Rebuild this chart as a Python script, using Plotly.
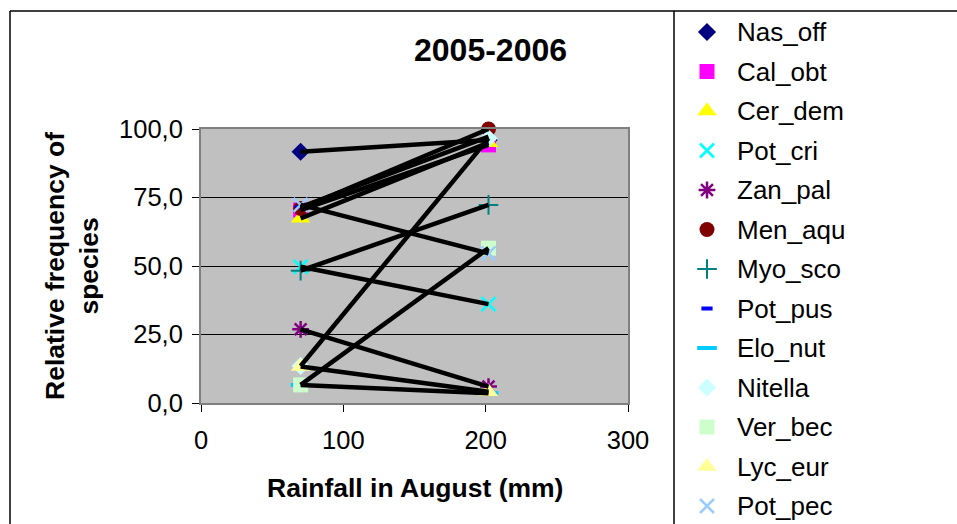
import plotly.graph_objects as go

# ---- data ----
rainfall = [70, 202]
species = ["Nas_off", "Cal_obt", "Cer_dem", "Pot_cri", "Zan_pal", "Men_aqu", "Myo_sco",
           "Pot_pus", "Elo_nut", "Nitella", "Ver_bec", "Lyc_eur", "Pot_pec"]
nas_off = [91.7, 96.0]
cal_obt = [70.4, 94.2]
cer_dem = [67.4, 95.0]
pot_cri = [49.7, 36.1]
zan_pal = [26.9, 6.0]
men_aqu = [71.0, 100.0]
myo_sco = [48.3, 72.3]
pot_pus = [71.5, 97.2]
elo_nut = [6.6, 3.6]
nitella = [13.5, 96.6]
ver_bec = [6.6, 56.5]
lyc_eur = [13.3, 4.1]
pot_pec = [72.3, 54.6]
values = [nas_off, cal_obt, cer_dem, pot_cri, zan_pal, men_aqu, myo_sco,
          pot_pus, elo_nut, nitella, ver_bec, lyc_eur, pot_pec]
x_ticks = [0, 100, 200, 300]
y_ticks = [0, 25, 50, 75, 100]
y_tick_text = ["0,0", "25,0", "50,0", "75,0", "100,0"]

# ---- styles ----
styles = [
    dict(symbol="diamond", color="#000080", size=14, lw=0),
    dict(symbol="square", color="#FF00FF", size=15, lw=0),
    dict(symbol="triangle-up", color="#FFFF00", size=17, lw=0),
    dict(symbol="x-thin", color="#00FFFF", size=14, lw=2.5),
    dict(symbol="asterisk", color="#800080", size=14, lw=2.5),
    dict(symbol="circle", color="#800000", size=15, lw=0),
    dict(symbol="cross-thin", color="#008080", size=14, lw=2),
    dict(symbol="line-ew", color="#0000FF", size=8, lw=4),
    dict(symbol="line-ew", color="#00CCFF", size=14, lw=4),
    dict(symbol="diamond", color="#CCFFFF", size=14, lw=0),
    dict(symbol="square", color="#CCFFCC", size=15, lw=0),
    dict(symbol="triangle-up", color="#FFFF99", size=17, lw=0),
    dict(symbol="x-thin", color="#99CCFF", size=14, lw=2.5),
]

W, H = 957, 524
PL, PR, PT, PB = 201, 628, 129, 403  # plot area in pixels
FONT = "Liberation Sans, Arial, sans-serif"
fig = go.Figure()

# main chart: markers first, then the black connecting lines on top
for name, vals, st in zip(species, values, styles):
    fig.add_trace(go.Scatter(
        x=rainfall, y=vals, mode="markers", name=name, showlegend=False,
        marker=dict(symbol=st["symbol"], color=st["color"], size=st["size"],
                    line=dict(color=st["color"], width=st["lw"])),
        cliponaxis=False, xaxis="x", yaxis="y",
    ))
for name, vals in zip(species, values):
    fig.add_trace(go.Scatter(
        x=rainfall, y=vals, mode="lines", showlegend=False,
        line=dict(color="black", width=4.5), cliponaxis=False, xaxis="x", yaxis="y",
    ))

# manual legend on a full-page pixel axis
LEG_SYM_X, LEG_TXT_X, LEG_Y0, LEG_DY = 707, 738, 32, 39.5
leg_y = [LEG_Y0 + LEG_DY * i for i in range(len(species))]
for i, (name, st) in enumerate(zip(species, styles)):
    fig.add_trace(go.Scatter(
        x=[LEG_SYM_X], y=[leg_y[i]], mode="markers", showlegend=False, hoverinfo="skip",
        marker=dict(symbol=st["symbol"], color=st["color"], size=st["size"],
                    line=dict(color=st["color"], width=st["lw"])),
        cliponaxis=False, xaxis="x2", yaxis="y2",
    ))

annotations = [
    dict(text="<b>2005-2006</b>", xref="x2", yref="y2", x=490, y=50,
         xanchor="center", yanchor="middle", showarrow=False, font=dict(size=32, family=FONT)),
    dict(text="<b>Relative frequency of<br>species</b>", xref="x2", yref="y2", x=72, y=266,
         xanchor="center", yanchor="middle", textangle=-90, showarrow=False,
         font=dict(size=26.5, family=FONT)),
    dict(text="<b>Rainfall in August (mm)</b>", xref="x2", yref="y2", x=415, y=488,
         xanchor="center", yanchor="middle", showarrow=False, font=dict(size=26.5, family=FONT)),
]
for i, name in enumerate(species):
    annotations.append(dict(text=name, xref="x2", yref="y2", x=LEG_TXT_X - 3, y=leg_y[i],
                            xanchor="left", yanchor="middle", showarrow=False,
                            font=dict(size=26, family=FONT)))

fig.update_layout(
    width=W, height=H,
    margin=dict(l=0, r=0, t=0, b=0, autoexpand=False),
    paper_bgcolor="white", plot_bgcolor="rgba(0,0,0,0)",
    font=dict(family=FONT, color="black", size=26),
    showlegend=False,
    xaxis=dict(
        domain=[PL / W, PR / W], anchor="y", automargin=False,
        range=[0, 300], tickvals=x_ticks, ticktext=[str(v) for v in x_ticks],
        showgrid=False, zeroline=False,
        showline=True, linecolor="#808080", linewidth=2, mirror=True,
        ticks="outside", ticklen=7, tickcolor="black", tickwidth=1,
        tickfont=dict(size=25.5), ticklabelstandoff=6,
    ),
    yaxis=dict(
        domain=[1 - PB / H, 1 - PT / H], anchor="x", automargin=False,
        range=[0, 100], tickvals=y_ticks, ticktext=y_tick_text,
        showgrid=True, gridcolor="black", gridwidth=1, zeroline=False,
        showline=True, linecolor="#808080", linewidth=2, mirror=True,
        ticks="outside", ticklen=7, tickcolor="black", tickwidth=1,
        tickfont=dict(size=25.5), ticklabelstandoff=4,
    ),
    xaxis2=dict(domain=[0, 1], range=[0, W], visible=False, anchor="y2", automargin=False),
    yaxis2=dict(domain=[0, 1], range=[H, 0], visible=False, anchor="x2", automargin=False),
    annotations=annotations,
    shapes=[
        dict(type="rect", xref="x", yref="y", x0=0, x1=300, y0=0, y1=100,
             fillcolor="#C0C0C0", line=dict(width=0), layer="below"),
        dict(type="line", xref="x2", yref="y2", x0=10, x1=W, y0=11, y1=11,
             line=dict(color="black", width=1.5)),
        dict(type="line", xref="x2", yref="y2", x0=10, x1=10, y0=11, y1=H,
             line=dict(color="black", width=1.5)),
        dict(type="line", xref="x2", yref="y2", x0=674, x1=674, y0=11, y1=H,
             line=dict(color="black", width=1.5)),
    ],
)

fig.write_html("out.html")
